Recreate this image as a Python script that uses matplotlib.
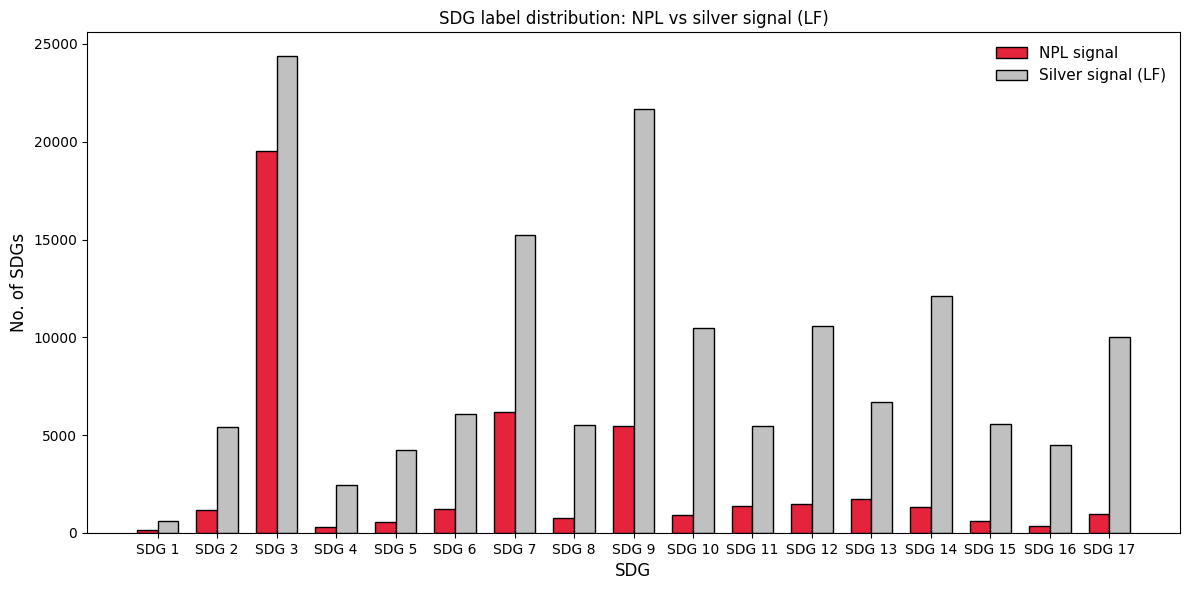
import matplotlib
matplotlib.use("Agg")
import matplotlib.pyplot as plt
import numpy as np

categories = [f"SDG {i}" for i in range(1, 18)]
npl_signal = [150, 1175, 19530, 300, 560, 1230, 6190, 770, 5470, 920, 1380, 1480, 1740, 1330, 610, 360, 970]
silver_signal = [610, 5420, 24390, 2450, 4240, 6080, 15235, 5520, 21680, 10480, 5470, 10580, 6700, 12120, 5570, 4500, 10020]

fig, ax = plt.subplots(figsize=(11.89, 5.9), dpi=100)
x = np.arange(len(categories))
w = 0.35
ax.bar(x - w/2, npl_signal, w, color="#E5243B", edgecolor="black", label="NPL signal")
ax.bar(x + w/2, silver_signal, w, color="#C0C0C0", edgecolor="black", label="Silver signal (LF)")
ax.set_xticks(x)
ax.set_xticklabels(categories)
ax.set_xlabel("SDG", fontsize=12)
ax.set_ylabel("No. of SDGs", fontsize=12)
ax.set_title("SDG label distribution: NPL vs silver signal (LF)", fontsize=12)
ax.legend(frameon=False, fontsize=11)
fig.subplots_adjust(left=87/1189, right=1180/1189, top=1-32/590, bottom=1-533/590)
fig.savefig("out.png", dpi=100)
